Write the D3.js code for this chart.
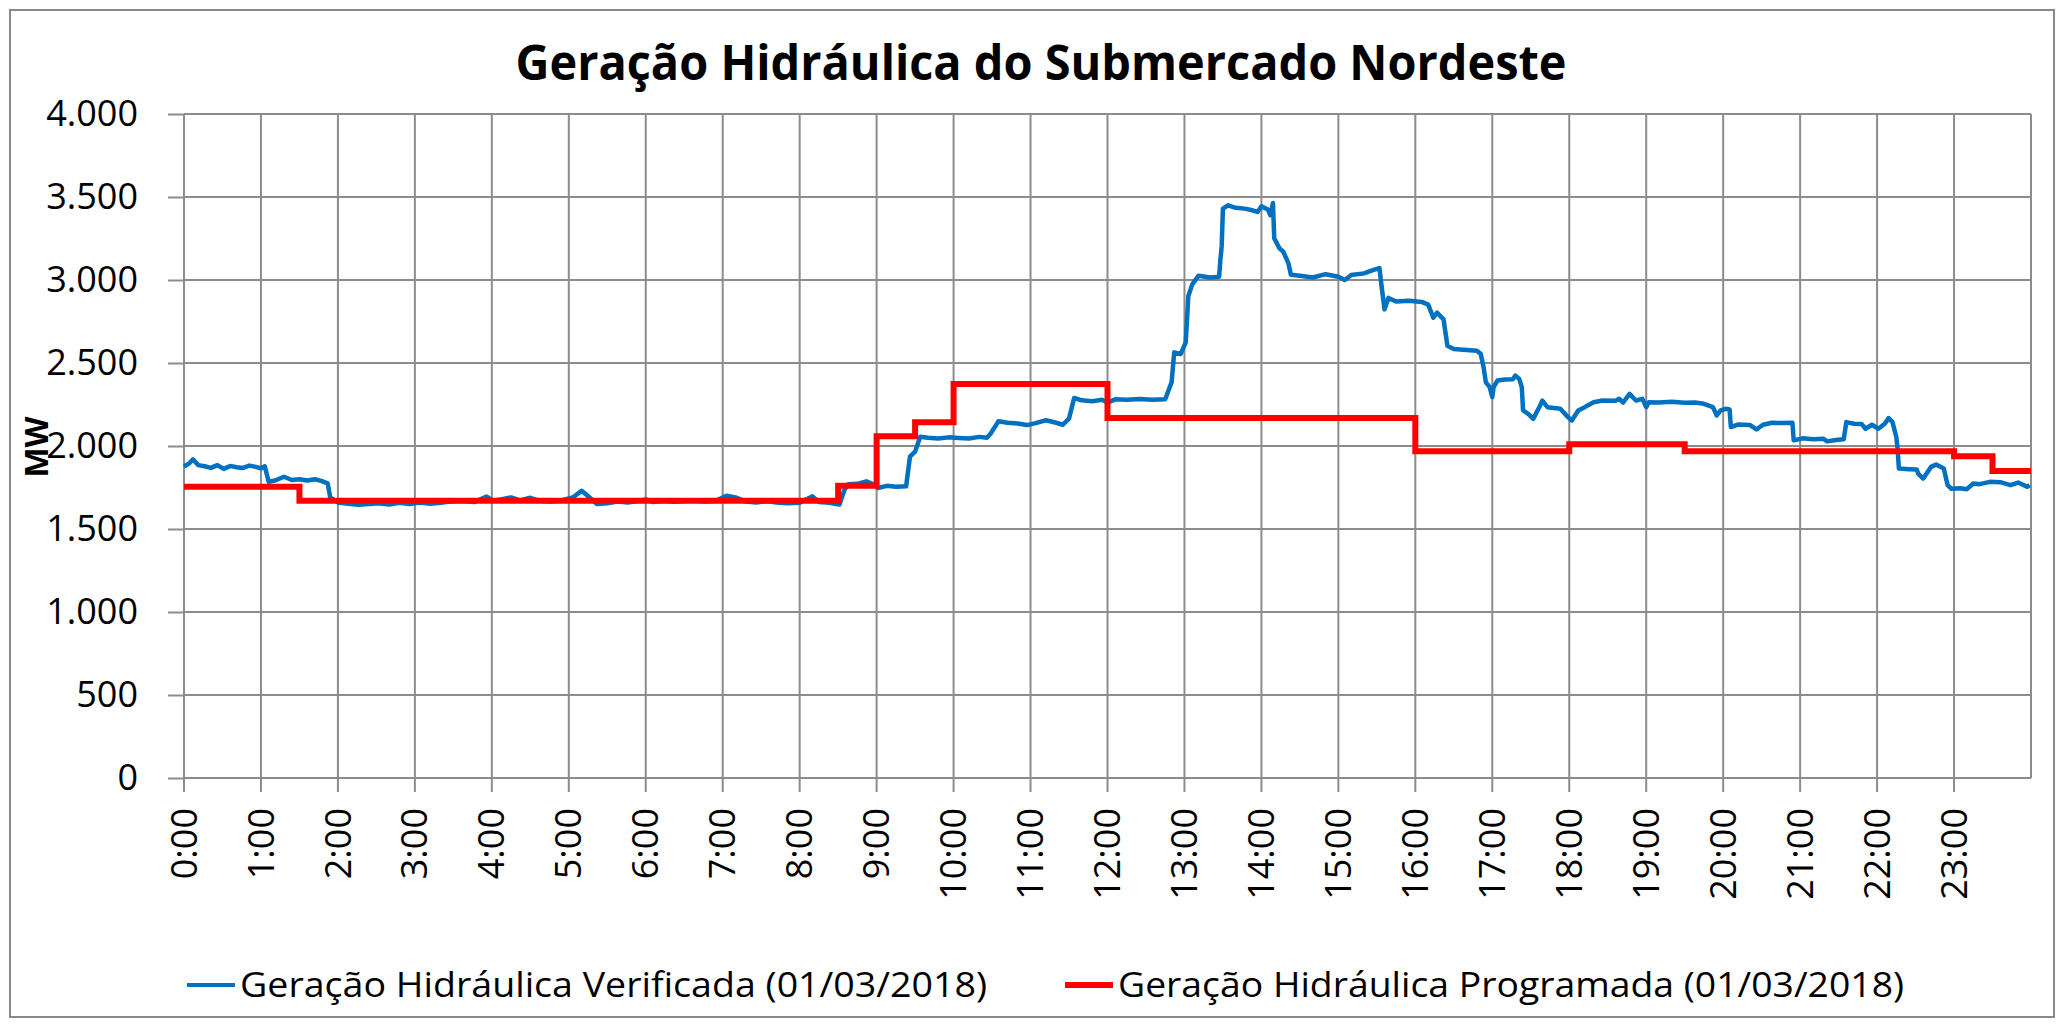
<!DOCTYPE html>
<html>
<head>
<meta charset="utf-8">
<script src="https://cdn.jsdelivr.net/npm/d3@7"></script>
<style>
    body { margin: 0; background: #fff; }
    text { font-family: 'Open Sans', 'Noto Sans', sans-serif; fill: #000; }
</style>
</head>
<body>
<div id="chart"></div>
<script>
// minutes since 0:00 for each reading of the verified series
const minutos = [
    0, 4, 7, 11, 16, 21, 26, 31, 36, 41, 46, 51, 56, 60, 63, 66, 71, 78, 84, 90,
    96, 102, 107, 112, 114, 120, 128, 136, 144, 152, 160, 168, 176, 184, 192, 200, 208, 216, 226, 236,
    241, 248, 255, 262, 270, 278, 286, 294, 303, 310, 314, 322, 330, 338, 346, 354, 360, 366, 374, 382,
    390, 398, 406, 414, 423, 430, 438, 446, 454, 462, 470, 480, 490, 495, 503, 511, 515, 518, 525, 532,
    538, 541, 548, 555, 563, 566, 570, 574, 580, 588, 596, 604, 612, 620, 626, 629, 635, 642, 650, 657,
    664, 672, 680, 685, 690, 694, 700, 708, 716, 720, 726, 735, 745, 755, 765, 770, 772, 777, 781, 783,
    786, 791, 800, 807, 808, 809, 810, 814, 820, 827, 833, 837, 840, 845, 847, 849, 850, 854, 857, 861,
    863, 870, 880, 890, 900, 905, 910, 920, 928, 932, 934, 936, 939, 945, 955, 965, 970, 974, 977, 982,
    985, 990, 1000, 1008, 1011, 1013, 1015, 1018, 1020, 1021, 1024, 1030, 1036, 1038, 1041, 1043, 1044, 1048, 1052, 1054,
    1058, 1059, 1063, 1073, 1079, 1082, 1087, 1092, 1099, 1106, 1116, 1119, 1122, 1127, 1132, 1137, 1140, 1142, 1150, 1160,
    1170, 1178, 1185, 1192, 1195, 1198, 1202, 1205, 1206, 1212, 1221, 1226, 1231, 1238, 1246, 1254, 1255, 1262, 1270, 1278,
    1281, 1288, 1294, 1296, 1302, 1308, 1311, 1316, 1321, 1326, 1329, 1332, 1335, 1336, 1337, 1345, 1351, 1352, 1356, 1362,
    1366, 1372, 1375, 1378, 1385, 1390, 1395, 1400, 1408, 1416, 1424, 1430, 1437, 1439
];

// Geração Hidráulica Verificada (MW)
const verificada = [
    1876, 1895, 1920, 1885, 1878, 1868, 1885, 1862, 1880, 1872, 1868, 1882, 1874, 1865, 1878, 1785, 1792, 1815, 1795, 1800,
    1792, 1800, 1790, 1775, 1690, 1660, 1652, 1646, 1650, 1655, 1648, 1658, 1650, 1660, 1652, 1658, 1665, 1670, 1662, 1695,
    1670, 1680, 1690, 1672, 1688, 1668, 1665, 1672, 1690, 1730, 1705, 1650, 1655, 1665, 1660, 1668, 1678, 1662, 1670, 1664,
    1668, 1672, 1665, 1668, 1700, 1690, 1665, 1660, 1668, 1660, 1655, 1658, 1697, 1662, 1658, 1647, 1737, 1770, 1772, 1787,
    1768, 1747, 1760, 1755, 1757, 1936, 1966, 2056, 2050, 2045, 2052, 2048, 2045, 2055, 2050, 2076, 2149, 2140, 2135, 2126,
    2138, 2155, 2140, 2128, 2165, 2289, 2275, 2270, 2278, 2261, 2281, 2278, 2283, 2278, 2282, 2385, 2564, 2554, 2624, 2902,
    2972, 3026, 3015, 3020, 3121, 3201, 3430, 3450, 3435, 3430, 3420, 3410, 3444, 3425, 3390, 3464, 3251, 3191, 3171, 3102,
    3032, 3025, 3015, 3035, 3020, 3000, 3030, 3040, 3062, 3072, 2942, 2823, 2892, 2870, 2875, 2868, 2852, 2773, 2803, 2763,
    2604, 2584, 2578, 2574, 2554, 2484, 2384, 2354, 2294, 2354, 2394, 2400, 2402, 2424, 2404, 2354, 2214, 2194, 2164, 2194,
    2254, 2274, 2234, 2224, 2174, 2154, 2214, 2234, 2264, 2274, 2272, 2284, 2262, 2314, 2274, 2284, 2234, 2264, 2262, 2266,
    2260, 2262, 2254, 2234, 2184, 2214, 2224, 2220, 2114, 2130, 2126, 2100, 2128, 2140, 2138, 2140, 2034, 2046, 2040, 2044,
    2028, 2036, 2040, 2144, 2134, 2132, 2104, 2128, 2104, 2134, 2168, 2144, 2054, 1984, 1864, 1860, 1858, 1834, 1804, 1874,
    1888, 1864, 1764, 1742, 1746, 1740, 1774, 1770, 1784, 1782, 1764, 1780, 1754, 1764
];

// Geração Hidráulica Programada (MW), one value per half hour from 0:00
const programada = [
    1755, 1755, 1755, 1670, 1670, 1670, 1670, 1670, 1670, 1670, 1670, 1670,
    1670, 1670, 1670, 1670, 1670, 1760, 2058, 2143, 2374, 2374, 2374, 2374,
    2169, 2169, 2169, 2169, 2169, 2169, 2169, 2169, 1968, 1968, 1968, 1968,
    2010, 2010, 2010, 1968, 1968, 1968, 1968, 1968, 1968, 1968, 1938, 1850
];

const horas = d3.range(0, 24).map(h => h + ':00');
const yTicks = [0, 500, 1000, 1500, 2000, 2500, 3000, 3500, 4000];

const titulo = 'Geração Hidráulica do Submercado Nordeste';
const legendas = [
    'Geração Hidráulica Verificada (01/03/2018)',
    'Geração Hidráulica Programada (01/03/2018)'
];

const W = 2065;
const H = 1027;
const margin = { top: 114, right: 34, bottom: 249, left: 184 };
const width = W - margin.left - margin.right;
const height = H - margin.top - margin.bottom;
const gridColor = '#8c8c8c';

const svg = d3
    .select('#chart')
    .append('svg')
    .attr('width', W)
    .attr('height', H);

svg.append('rect')
    .attr('width', W)
    .attr('height', H)
    .attr('fill', '#fff');

// chart border
svg.append('rect')
    .attr('x', 10)
    .attr('y', 10)
    .attr('width', 2044)
    .attr('height', 1007)
    .attr('fill', 'none')
    .attr('stroke', '#898989')
    .attr('stroke-width', 2);

svg.append('text')
    .attr('x', 1041)
    .attr('y', 80)
    .attr('text-anchor', 'middle')
    .attr('font-weight', 'bold')
    .attr('font-size', 48)
    .attr('textLength', 1051)
    .attr('lengthAdjust', 'spacingAndGlyphs')
    .text(titulo);

const g = svg.append('g')
    .attr('transform', 'translate(' + margin.left + ',' + margin.top + ')');

const x = d3.scaleLinear().domain([0, 1440]).range([0, width]);
const y = d3.scaleLinear().domain([0, 4000]).range([height, 0]);

// Y axis with gridlines
const yAxis = g.append('g')
    .call(
        d3.axisLeft(y)
        .tickValues(yTicks)
        .tickSize(16)
        .tickPadding(30)
        .tickFormat(d => d3.format(',')(d).replace(/,/g, '.'))
    );
yAxis.select('.domain').remove();
yAxis.selectAll('line').attr('stroke', gridColor).attr('stroke-width', 2);
yAxis.selectAll('text').attr('font-size', 36).attr('fill', '#000');

g.append('g')
    .selectAll('line')
    .data(yTicks)
    .enter()
    .append('line')
    .attr('x1', 0)
    .attr('x2', width)
    .attr('y1', d => y(d))
    .attr('y2', d => y(d))
    .attr('stroke', gridColor)
    .attr('stroke-width', 2);

// X axis: one tick per hour
const hourTicks = d3.range(0, 25).map(h => h * 60);
g.append('g')
    .selectAll('line')
    .data(hourTicks)
    .enter()
    .append('line')
    .attr('x1', d => x(d))
    .attr('x2', d => x(d))
    .attr('y1', 0)
    .attr('y2', d => (d < 1440 ? height + 14 : height))
    .attr('stroke', gridColor)
    .attr('stroke-width', 2);

g.append('g')
    .selectAll('text')
    .data(horas)
    .enter()
    .append('text')
    .attr('transform', (d, i) => 'translate(' + x(i * 60) + ',' + (height + 30) + ') rotate(-90)')
    .attr('dy', '0.35em')
    .attr('text-anchor', 'end')
    .attr('font-size', 36)
    .text(d => d);

svg.append('text')
    .attr('transform', 'translate(37,447) rotate(-90)')
    .attr('dy', '0.35em')
    .attr('text-anchor', 'middle')
    .attr('font-weight', 'bold')
    .attr('font-size', 32)
    .text('MW');

// series
const serieVerif = minutos.map((m, i) => [m, verificada[i]]);
const serieProg = programada.map((v, i) => [i * 30, v]);
serieProg.push([1440, programada[programada.length - 1]]);

const linha = d3.line()
    .x(d => x(d[0]))
    .y(d => y(d[1]));

g.append('path')
    .datum(serieVerif)
    .attr('d', linha)
    .attr('fill', 'none')
    .attr('stroke', '#0070C0')
    .attr('stroke-width', 4.5)
    .attr('stroke-linejoin', 'round');

g.append('path')
    .datum(serieProg)
    .attr('d', linha.curve(d3.curveStepAfter))
    .attr('fill', 'none')
    .attr('stroke', '#FF0000')
    .attr('stroke-width', 6);

// legend
const legend = [
    { x: 187, cor: '#0070C0', w: 4, len: 747 },
    { x: 1065, cor: '#FF0000', w: 6, len: 786 }
];
legend.forEach((l, i) => {
    svg.append('line')
        .attr('x1', l.x)
        .attr('x2', l.x + 48)
        .attr('y1', 985)
        .attr('y2', 985)
        .attr('stroke', l.cor)
        .attr('stroke-width', l.w);
    svg.append('text')
        .attr('x', l.x + 53)
        .attr('y', 985)
        .attr('dy', '0.35em')
        .attr('font-size', 35)
        .attr('textLength', l.len)
        .attr('lengthAdjust', 'spacingAndGlyphs')
        .text(legendas[i]);
});
</script>
</body>
</html>
